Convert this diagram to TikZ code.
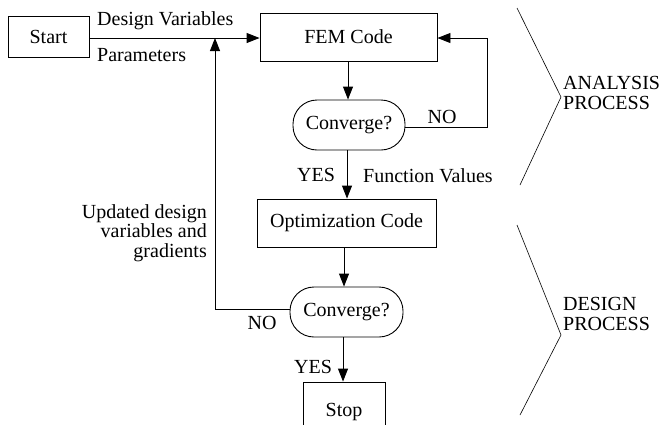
\documentclass[tikz,border=0pt]{standalone}
\usepackage{fontspec}
\setmainfont{Liberation Serif}
\usetikzlibrary{arrows.meta,positioning}
\begin{document}
\begin{tikzpicture}[x=1pt,y=-1pt,
  every node/.style={font=\fontsize{20}{22}\selectfont},
  box/.style={draw,line width=0.9pt,inner sep=0pt},
  pill/.style={draw,line width=0.9pt,rounded corners=24pt,inner sep=0pt},
  line/.style={line width=0.9pt},
  arr/.style={line width=0.9pt,-{Triangle[length=13pt,width=10pt]}},
  lbl/.style={inner sep=0pt}]
\useasboundingbox (0,0) rectangle (668,424);
\node[box,minimum width=81pt,minimum height=41pt] (start) at (48.5,37) {Start};
\node[box,minimum width=177pt,minimum height=48pt] (fem) at (348.5,37) {FEM Code};
\node[pill,minimum width=112pt,minimum height=50pt] (c1) at (349,125) {Converge?};
\node[box,minimum width=179pt,minimum height=48pt] (opt) at (346.5,223) {Optimization Code};
\node[pill,minimum width=113pt,minimum height=50pt] (c2) at (346.5,312) {Converge?};
\node[box,minimum width=82pt,minimum height=60pt] (stop) at (344,412) {Stop};

\coordinate (j) at (215,38);
\coordinate (nr) at (487,38);
\coordinate (nl) at (215,309);

\draw[arr] (start.east |- j) -- (fem.west |- j);
\draw[arr] (nl) -- (j);
\draw[line] (c2.west |- nl) -- (nl);
\draw[arr] (fem.south -| 348,0) -- (c1.north -| 348,0);
\draw[line] (c1.east |- 0,127) -- (487,127) -- (nr);
\draw[arr] (nr) -- (fem.east |- nr);
\draw[arr] (c1.south -| 347,0) -- (opt.north -| 347,0);
\draw[arr] (opt.south -| 344,0) -- (c2.north -| 344,0);
\draw[arr] (c2.south -| 343,0) -- (stop.north -| 343,0);

\node[lbl,anchor=base west] (dv) at (97,25) {Design Variables};
\node[lbl,anchor=base west] (pa) at (97,61) {Parameters};
\node[lbl,anchor=base] (no1) at (442,123) {NO};
\node[lbl,anchor=base] (yes1) at (316,181) {YES};
\node[lbl,anchor=base west] (fv) at (363,182) {Function Values};
\node[lbl,anchor=base] (no2) at (262,329) {NO};
\node[lbl,anchor=base] (yes2) at (313,373) {YES};
\node[lbl,anchor=north east,align=right,font=\fontsize{20}{19.5}\selectfont] (upd) at (207,204) {Updated design\\variables and\\gradients};

\draw[line,line width=0.6pt] (517,8) -- (561,97) -- (520,185);
\draw[line,line width=0.6pt] (517,225) -- (561,335) -- (520,415);
\node[lbl,anchor=west,align=left,font=\fontsize{20}{20.5}\selectfont] (ap) at (563,93) {ANALYSIS\\PROCESS};
\node[lbl,anchor=west,align=left,font=\fontsize{20}{20.5}\selectfont] (dp) at (563,314) {DESIGN\\PROCESS};
\end{tikzpicture}
\end{document}
